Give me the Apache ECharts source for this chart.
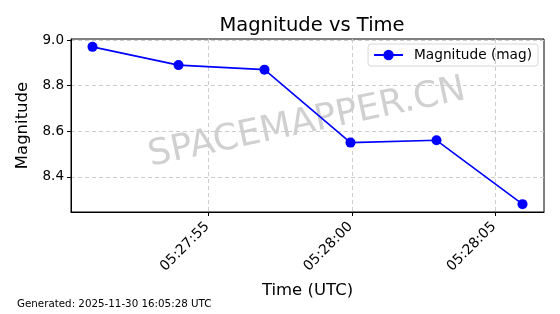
<!DOCTYPE html>
<html><head><meta charset="utf-8">
<script src="https://cdn.jsdelivr.net/npm/echarts@6/dist/echarts.min.js"></script>
<style>html,body{margin:0;padding:0;background:#fff}#c{width:560px;height:314px}</style>
</head><body><div id="c"></div>
<script>
var times = ["05:27:50.95","05:27:53.95","05:27:56.95","05:27:59.95","05:28:02.95","05:28:05.95"];
var magnitudes = [8.97, 8.89, 8.87, 8.55, 8.56, 8.28];
var xTickLabels = ["05:27:55","05:28:00","05:28:05"];
var yTicks = [8.4, 8.6, 8.8, 9.0];

function toSec(s){var p=s.split(':');return (+p[0])*3600+(+p[1])*60+parseFloat(p[2]);}
var base = toSec("05:27:00");
var xs = times.map(function(t){return toSec(t)-base;});
var xTickVals = xTickLabels.map(function(t){return toSec(t)-base;});
var xmin = Math.min.apply(null,xs), xmax = Math.max.apply(null,xs), xr = xmax-xmin;
var ymin = Math.min.apply(null,magnitudes), ymax = Math.max.apply(null,magnitudes), yr = ymax-ymin;
var font = 'DejaVu Sans';
var chart = echarts.init(document.getElementById('c'), null, {renderer:'canvas'});
chart.setOption({
  animation:false,
  title:{text:'Magnitude vs Time', left:307, top:11, textAlign:'center',
    textStyle:{fontFamily:font, fontSize:19.5, fontWeight:'normal', color:'#000'}},
  grid:{left:71, right:16, top:39, bottom:102, show:true, borderColor:'#000', borderWidth:1, containLabel:false},
  legend:{right:22, top:44, itemWidth:29, itemHeight:13, itemGap:6,
    borderColor:'#d6d6d6', borderWidth:1, borderRadius:3, padding:[4,6,4,5],
    textStyle:{fontFamily:font, fontSize:13.7, color:'#000', padding:[0,0,0,6]}, data:['Magnitude (mag)']},
  xAxis:{type:'value', min:xmin-0.05*xr, max:xmax+0.05*xr,
    name:'Time (UTC)', nameLocation:'middle', nameGap:70,
    nameTextStyle:{fontFamily:font, fontSize:16.5, color:'#000'},
    axisLine:{lineStyle:{color:'#000'}},
    axisTick:{show:true, length:4, customValues:xTickVals, lineStyle:{color:'#000'}},
    axisLabel:{customValues:xTickVals, rotate:45, fontFamily:font, fontSize:14, color:'#000', margin:11,
      padding:[0,2,0,0],
      formatter:function(v){var i=xTickVals.indexOf(v);return i>=0?xTickLabels[i]:'';}},
    splitLine:{show:true, lineStyle:{color:'#cccccc', type:[4,3], width:1}}},
  yAxis:{type:'value', min:ymin-0.05*yr, max:ymax+0.05*yr,
    name:'Magnitude', nameLocation:'middle', nameGap:37,
    nameTextStyle:{fontFamily:font, fontSize:16.5, color:'#000'},
    axisLine:{show:true, lineStyle:{color:'#000'}},
    axisTick:{show:true, length:4, customValues:yTicks, lineStyle:{color:'#000'}},
    axisLabel:{customValues:yTicks, fontFamily:font, fontSize:13.5, color:'#000', margin:7,
      formatter:function(v){return v.toFixed(1);}},
    splitLine:{show:true, lineStyle:{color:'#cccccc', type:[4,3], width:1}}},
  graphic:[
    {type:'text', style:{text:'SPACEMAPPER.CN', font:'36px "DejaVu Sans"', fill:'rgba(150,150,150,0.45)', textAlign:'center', textVerticalAlign:'middle'}, x:307, y:123, rotation:12*Math.PI/180, z:0},
    {type:'text', left:17, top:299, style:{text:'Generated: 2025-11-30 16:05:28 UTC', font:'10.3px "DejaVu Sans"', fill:'#000'}}
  ],
  series:[{name:'Magnitude (mag)', type:'line', data:xs.map(function(x,i){return [x,magnitudes[i]];}),
    symbol:'circle', symbolSize:10, itemStyle:{color:'#0000ff'}, lineStyle:{color:'#0000ff', width:1.6}, z:5}]
});
</script></body></html>
